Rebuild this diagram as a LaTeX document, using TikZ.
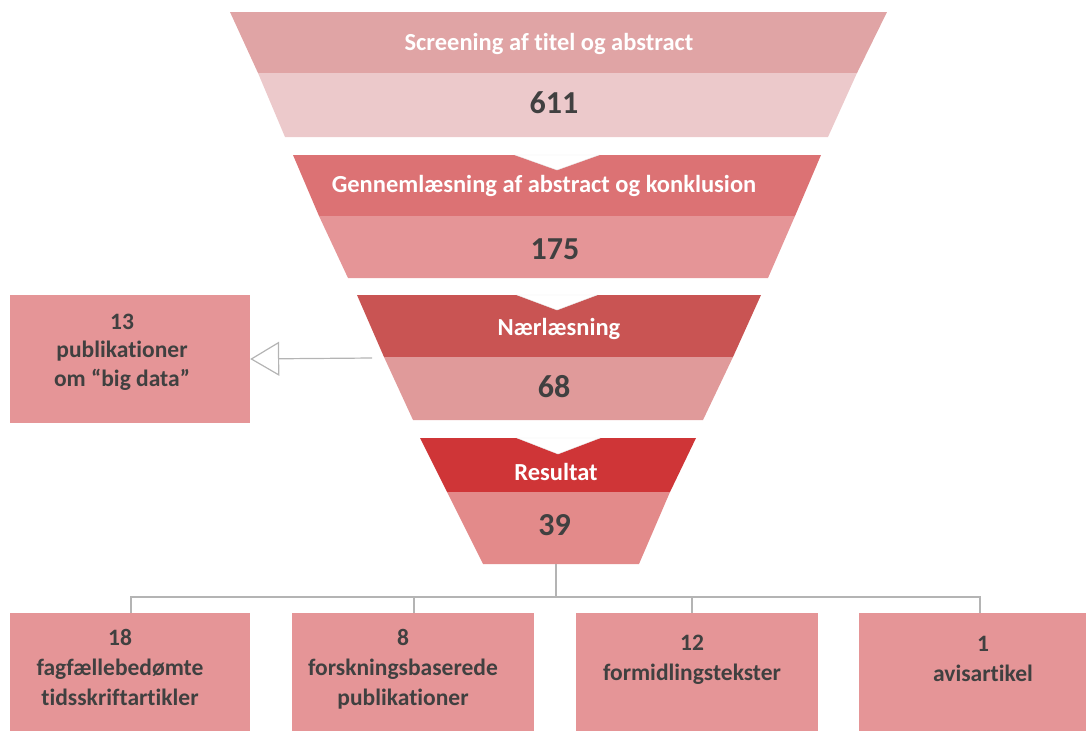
\documentclass[tikz,border=0pt]{standalone}
\usepackage{fontspec}
\setmainfont{Carlito}[Ligatures=NoCommon]
\usetikzlibrary{arrows.meta}
\definecolor{fatop}{HTML}{E0A4A5}
\definecolor{fabot}{HTML}{ECC9CB}
\definecolor{fbtop}{HTML}{DC7274}
\definecolor{fbbot}{HTML}{E59597}
\definecolor{fctop}{HTML}{C95453}
\definecolor{fcbot}{HTML}{E09A9A}
\definecolor{fdtop}{HTML}{CF3537}
\definecolor{fdbot}{HTML}{E38A8A}
\definecolor{boxfill}{HTML}{E59597}
\definecolor{txt}{HTML}{404040}
\definecolor{conn}{HTML}{B4B4B4}
\tikzset{
  lab/.style={text=white, font=\bfseries\fontsize{24.5}{28}\selectfont, inner sep=0pt},
  num/.style={text=txt, font=\bfseries\fontsize{32}{36}\selectfont, inner sep=0pt},
  box/.style={fill=boxfill, draw=none, text=txt, align=center, inner sep=0pt,
    font=\bfseries\fontsize{23.5}{30}\selectfont},
  link/.style={draw=conn, line width=1.3pt},
  notch/.style={fill=white, draw=black!8, line width=0.4pt},
}
\begin{document}
\begin{tikzpicture}[x=1pt,y=-1pt]
\useasboundingbox (0,0) rectangle (1086,731);
% Funnel 1
\fill[fatop] (230,12) -- (887,12) -- (857,73) -- (258,73) -- cycle;
\fill[fabot] (258,73) -- (857,73) -- (828,137) -- (285,137) -- cycle;
\node[lab] (t1) at (549,44) {Screening af titel og abstract};
\node[num] (n1) at (554,103) {611};
% Funnel 2
\fill[fbtop] (293,155) -- (821,155) -- (795,216) -- (319,216) -- cycle;
\fill[fbbot] (319,216) -- (795,216) -- (768,278) -- (348,278) -- cycle;
\path[notch] (515,155) -- (599,155) -- (557,170) -- cycle;
\node[lab] (t2) at (544,186) {Gennemlæsning af abstract og konklusion};
\node[num] (n2) at (555,249) {175};
% Funnel 3
\fill[fctop] (357,295) -- (761,295) -- (733,357) -- (384,357) -- cycle;
\fill[fcbot] (384,357) -- (733,357) -- (703,420) -- (413,420) -- cycle;
\path[notch] (517,295) -- (597,295) -- (557,310) -- cycle;
\node[lab] (t3) at (559,329) {Nærlæsning};
\node[num] (n3) at (554,387) {68};
\coordinate (f3l) at (372,358);
% Funnel 4
\fill[fdtop] (420,438) -- (696,438) -- (670,492) -- (447,492) -- cycle;
\fill[fdbot] (447,492) -- (670,492) -- (639,564) -- (483,564) -- cycle;
\path[notch] (517,438) -- (600,438) -- (558,454) -- cycle;
\node[lab] (t4) at (556,472) {Resultat};
\node[num] (n4) at (554.5,525) {39};
\coordinate (f4b) at (556,564);
% left box
\node[box, minimum width=240, minimum height=128] (bd) at (130,359) {};
\node[box, fill=none, font=\bfseries\fontsize{23.5}{28.5}\selectfont] (bdl) at (122,352)
  {13\\publikationer\\om “big data”};
\draw[link, line width=1.2pt, -{Triangle[open, length=29pt, width=34pt, line width=1.2pt]}] (f3l) -- (bd.east);
% bottom boxes
\node[box, minimum width=240, minimum height=118, anchor=north] (b1) at (130,613) {};
\node[box, minimum width=242, minimum height=118, anchor=north] (b2) at (413,613) {};
\node[box, minimum width=242, minimum height=118, anchor=north] (b3) at (697,613) {};
\node[box, minimum width=248, minimum height=118, anchor=north] (b4) at (983,613) {};
\node[box, fill=none, anchor=center] (l1) at (120,667) {18\\fagfællebedømte\\tidsskriftartikler};
\node[box, fill=none, anchor=center] (l2) at (403,669) {8\\forskningsbaserede\\publikationer};
\node[box, fill=none, anchor=center] (l3) at (692,660) {12\\formidlingstekster};
\node[box, fill=none, anchor=center] (l4) at (983,659) {1\\avisartikel};
% tree
\coordinate (bus) at (556,597);
\draw[link] (f4b) -- (bus);
\draw[link] (bus) -| (131,613);
\draw[link] (bus) -| (414,613);
\draw[link] (bus) -| (692,613);
\draw[link] (bus) -| (980,613);
\end{tikzpicture}
\end{document}
